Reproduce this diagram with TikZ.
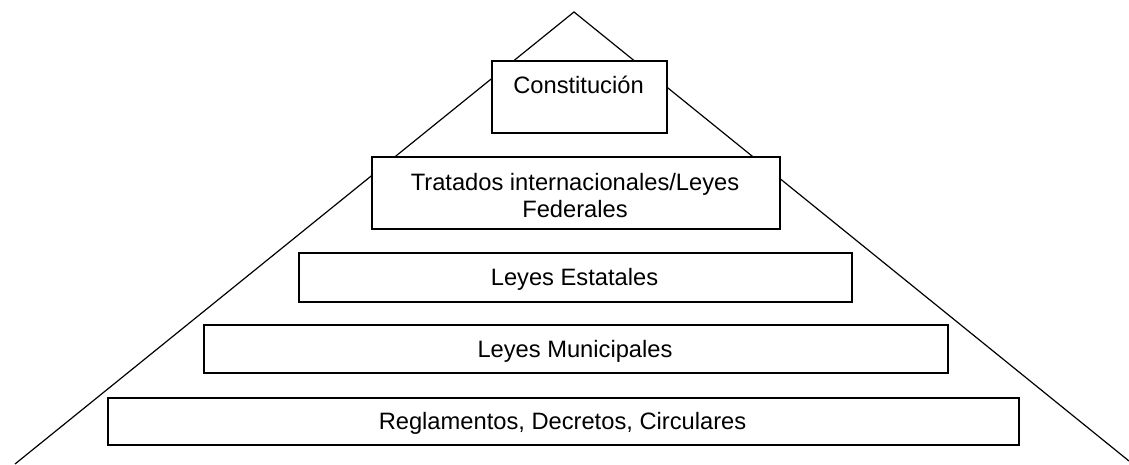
\documentclass[tikz,border=0pt]{standalone}
\usepackage{fontspec}
\setmainfont{Liberation Sans}
\begin{document}
\begin{tikzpicture}[x=1pt,y=-1pt,
  box/.style={draw, line width=1.5pt, fill=white, inner sep=0pt, anchor=north west},
  lbl/.style={font=\fontsize{23.7}{27}\selectfont, anchor=base, inner sep=0pt},
  side/.style={line width=1.2pt}]
\useasboundingbox[fill=white] (0,0) rectangle (1129,464);
\coordinate (apex) at (574,12);
\coordinate (bl) at (15,464);
\coordinate (br) at (1129,461);
\draw[side] (bl) -- (apex) -- (br);
\node[box, minimum width=175pt, minimum height=72pt] (con) at (491,60) {};
\node[box, minimum width=408pt, minimum height=72pt] (tra) at (371,156) {};
\node[box, minimum width=553pt, minimum height=49pt] (est) at (298,252) {};
\node[box, minimum width=744pt, minimum height=48pt] (mun) at (203,324) {};
\node[box, minimum width=911pt, minimum height=47pt] (reg) at (107,397) {};
\node[lbl] (tcon) at (578.5,93) {Constitución};
\node[lbl] (ttra1) at (575,190) {Tratados internacionales/Leyes};
\node[lbl] (ttra2) at (575,217) {Federales};
\node[lbl] (test) at (574.5,285) {Leyes Estatales};
\node[lbl] (tmun) at (575,357) {Leyes Municipales};
\node[lbl] (treg) at (562.5,429) {Reglamentos, Decretos, Circulares};
\end{tikzpicture}
\end{document}
